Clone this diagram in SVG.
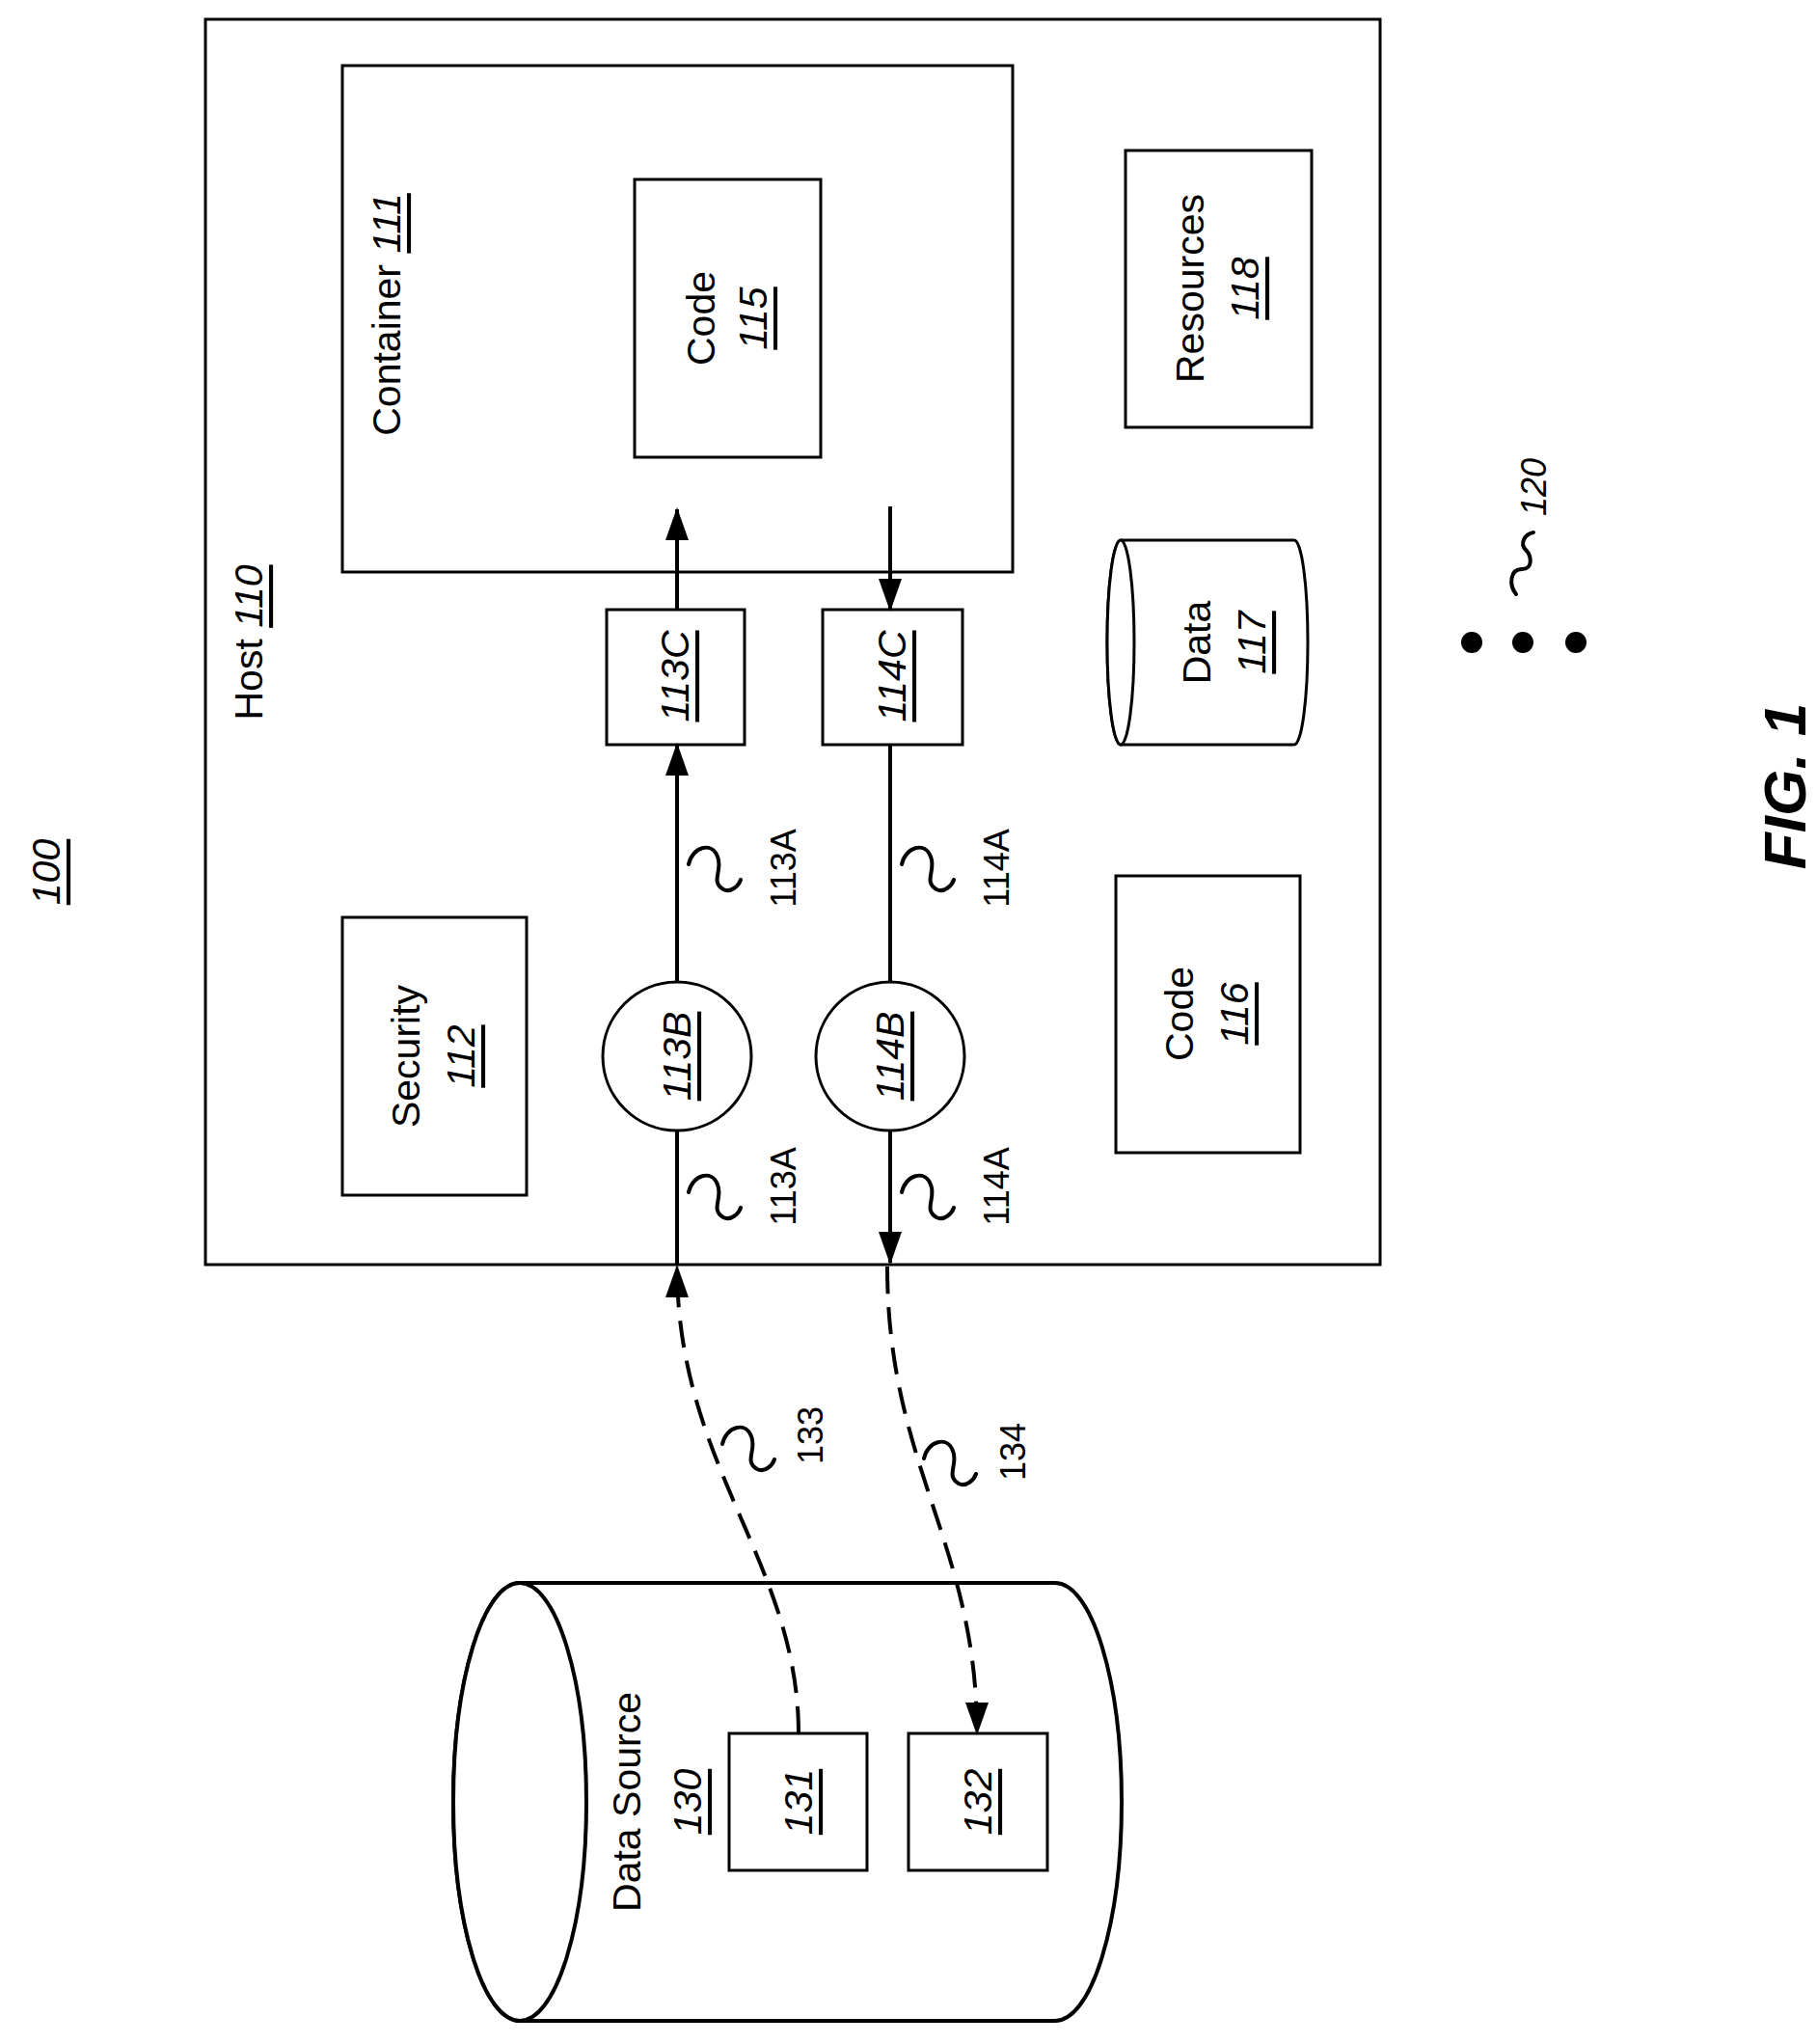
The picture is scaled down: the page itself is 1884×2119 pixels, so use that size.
<svg xmlns="http://www.w3.org/2000/svg" width="1884" height="2119" viewBox="0 0 1884 2119">
<style>
text{font-family:"Liberation Sans",Arial,sans-serif;font-size:41px;fill:#000;text-anchor:middle;dominant-baseline:central}
.s{font-size:36px}
.u{text-decoration:underline;font-style:italic}
.b{fill:#fff;stroke:#000;stroke-width:3}
.l{fill:none;stroke:#000;stroke-width:4}
.d{fill:none;stroke:#000;stroke-width:4;stroke-dasharray:28 14}
.q{fill:none;stroke:#000;stroke-width:4;stroke-linecap:round}
</style>
<defs><marker id="a" viewBox="0 0 34 24" refX="32" refY="12" markerWidth="34" markerHeight="24" orient="auto" markerUnits="userSpaceOnUse"><path d="M0,0 L34,12 L0,24 Z"/></marker></defs>
<text transform="translate(48,904) rotate(-90)" class="u">100</text>
<g id="host"><rect class="b" x="213" y="20" width="1218" height="1291"/>
<text transform="translate(258,666) rotate(-90)">Host <tspan class="u">110</tspan></text></g>
<g id="container"><rect class="b" x="355" y="68" width="695" height="525"/>
<text transform="translate(401,326) rotate(-90)">Container <tspan class="u">111</tspan></text></g>
<g id="code115"><rect class="b" x="658" y="186" width="193" height="288"/>
<text transform="translate(727,330) rotate(-90)">Code</text><text transform="translate(781,330) rotate(-90)" class="u">115</text></g>
<g id="res118"><rect class="b" x="1167" y="156" width="193" height="287"/>
<text transform="translate(1234,299) rotate(-90)">Resources</text><text transform="translate(1291,299) rotate(-90)" class="u">118</text></g>
<g id="data117"><path class="b" d="M1162,560 L1342,560 A14,106 0 0 1 1342,772 L1162,772 A14,106 0 0 1 1162,560 Z"/><ellipse class="b" cx="1162" cy="666" rx="14" ry="106"/>
<text transform="translate(1241,666) rotate(-90)">Data</text><text transform="translate(1298,666) rotate(-90)" class="u">117</text></g>
<g id="n113C"><rect class="b" x="629" y="632" width="143" height="140"/><text transform="translate(700,701) rotate(-90)" class="u">113C</text></g>
<g id="n114C"><rect class="b" x="853" y="632" width="145" height="140"/><text transform="translate(925,701) rotate(-90)" class="u">114C</text></g>
<g id="n113B"><circle class="b" cx="702" cy="1095" r="77"/><text transform="translate(702,1095) rotate(-90)" class="u">113B</text></g>
<g id="n114B"><circle class="b" cx="923" cy="1095" r="77"/><text transform="translate(923,1095) rotate(-90)" class="u">114B</text></g>
<g id="sec112"><rect class="b" x="355" y="951" width="191" height="288"/>
<text transform="translate(421,1095) rotate(-90)">Security</text><text transform="translate(478,1095) rotate(-90)" class="u">112</text></g>
<g id="code116"><rect class="b" x="1157" y="908" width="191" height="287"/>
<text transform="translate(1223,1051) rotate(-90)">Code</text><text transform="translate(1280,1051) rotate(-90)" class="u">116</text></g>
<g id="ds130"><path class="b" d="M539,1641 L1094,1641 A69,227 0 0 1 1094,2095 L539,2095 A69,227 0 0 1 539,1641 Z" style="stroke-width:4"/><ellipse class="b" cx="539" cy="1868" rx="69" ry="227" style="stroke-width:4"/>
<text transform="translate(650,1868) rotate(-90)">Data Source</text><text transform="translate(713,1868) rotate(-90)" class="u">130</text></g>
<g id="n131"><rect class="b" x="756" y="1797" width="143" height="142"/><text transform="translate(828,1868) rotate(-90)" class="u">131</text></g>
<g id="n132"><rect class="b" x="942" y="1797" width="144" height="142"/><text transform="translate(1014,1868) rotate(-90)" class="u">132</text></g>
<g id="connectors">
<line class="l" x1="702" y1="1311" x2="702" y2="1172"/>
<line class="l" x1="702" y1="1018" x2="702" y2="772" marker-end="url(#a)"/>
<line class="l" x1="702" y1="632" x2="702" y2="528" marker-end="url(#a)"/>
<line class="l" x1="923" y1="525" x2="923" y2="632" marker-end="url(#a)"/>
<line class="l" x1="923" y1="772" x2="923" y2="1018"/>
<line class="l" x1="923" y1="1172" x2="923" y2="1309" marker-end="url(#a)"/>
<path class="d" d="M828,1797 C828,1620 702,1520 702,1313" marker-end="url(#a)"/>
<path class="d" d="M920,1313 C920,1520 1013,1600 1013,1797" marker-end="url(#a)"/>
</g>
<g id="labels">
<path class="q" d="M714,896 c4,-18 24,-24 30,-8 c6,14 -8,26 6,34 c8,4 16,-4 18,-10"/><text class="s" transform="translate(812,900) rotate(-90)">113A</text>
<path class="q" d="M714,1236 c4,-18 24,-24 30,-8 c6,14 -8,26 6,34 c8,4 16,-4 18,-10"/><text class="s" transform="translate(812,1230) rotate(-90)">113A</text>
<path class="q" d="M935,896 c4,-18 24,-24 30,-8 c6,14 -8,26 6,34 c8,4 16,-4 18,-10"/><text class="s" transform="translate(1033,900) rotate(-90)">114A</text>
<path class="q" d="M935,1236 c4,-18 24,-24 30,-8 c6,14 -8,26 6,34 c8,4 16,-4 18,-10"/><text class="s" transform="translate(1033,1230) rotate(-90)">114A</text>
<path class="q" d="M749,1497 c4,-18 24,-24 30,-8 c6,14 -8,26 6,34 c8,4 16,-4 18,-10"/><text class="s" transform="translate(840,1488) rotate(-90)">133</text>
<path class="q" d="M958,1512 c4,-18 24,-24 30,-8 c6,14 -8,26 6,34 c8,4 16,-4 18,-10"/><text class="s" transform="translate(1050,1505) rotate(-90)">134</text>
</g>
<g id="n120"><circle cx="1526" cy="666" r="11"/><circle cx="1579" cy="666" r="11"/><circle cx="1634" cy="666" r="11"/>
<path class="q" d="M1572,616 c-8,-10 -6,-26 6,-26 c12,0 10,-14 4,-20 c-6,-6 -2,-16 8,-18"/>
<text class="s" transform="translate(1590,505) rotate(-90)" style="font-style:italic">120</text></g>
<text transform="translate(1850,815) rotate(-90)" style="font-size:62px;font-weight:bold;font-style:italic">FIG. 1</text>
</svg>
